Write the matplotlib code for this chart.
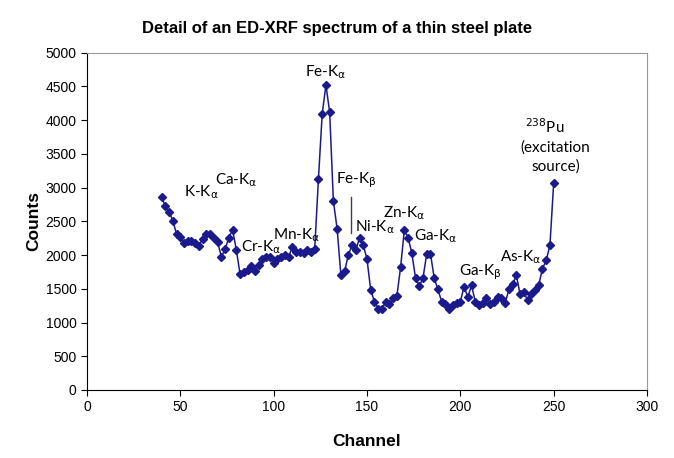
import matplotlib
matplotlib.use("Agg")
import matplotlib.pyplot as plt
import numpy as np

# channels 40..250, every 2nd channel
channels = np.arange(40, 252, 2)
counts = [2860, 2720, 2640, 2510, 2310, 2265, 2185, 2210, 2210, 2175,
          2140, 2245, 2305, 2315, 2250, 2190, 1975, 2085, 2260, 2375,
          2080, 1720, 1750, 1780, 1840, 1765, 1850, 1935, 1965, 1970,
          1880, 1940, 1965, 2000, 1975, 2115, 2050, 2040, 2025, 2075,
          2040, 2095, 3130, 4090, 4520, 4120, 2800, 2390, 1710, 1760,
          2000, 2150, 2075, 2250, 2150, 1940, 1480, 1310, 1200, 1200,
          1310, 1270, 1360, 1390, 1820, 2370, 2260, 2030, 1660, 1540,
          1660, 2020, 2020, 1660, 1490, 1310, 1270, 1200, 1260, 1290,
          1310, 1530, 1380, 1550, 1310, 1260, 1285, 1370, 1275, 1310,
          1380, 1360, 1285, 1490, 1570, 1700, 1420, 1450, 1330, 1420,
          1480, 1560, 1800, 1920, 2150, 3070]

# peak labels: text, channel, counts
a = "$_{\\mathrm{\\alpha}}$"
b = "$_{\\mathrm{\\beta}}$"
peak_labels = ["K-K" + a, "Ca-K" + a, "Cr-K" + a, "Mn-K" + a,
               "Fe-K" + a, "Fe-K" + b, "Ni-K" + a, "Zn-K" + a,
               "Ga-K" + a, "Ga-K" + b, "As-K" + a]
label_x = [61.5, 79.8, 93.5, 112.5, 128.0, 144.5, 154.2, 169.7, 186.8, 210.9, 232.3]
label_y = [2935, 3112, 2110, 2300, 4713, 3112, 2416, 2623, 2282, 1749, 1971]

navy = "#1a1a8c"
lab_font = "Lato"

fig = plt.figure(figsize=(6.74, 4.58), dpi=100)
ax = fig.add_axes([0.129, 0.1485, 0.831, 0.7365])

ax.plot(channels, counts, color=navy, lw=1.1, marker="D", ms=3.6,
        mec=navy, mfc=navy)

for t, x, y in zip(peak_labels, label_x, label_y):
    ax.text(x, y, t, ha="center", va="center", fontsize=11,
            family=lab_font, color="black")

# marker line for Fe-K beta
ax.plot([141.3, 141.3], [2860, 2330], color="#404040", lw=1)

ax.text(245.2, 3898, "$^{238}$Pu", ha="center", va="center", fontsize=11, family=lab_font)
ax.text(251, 3587, "(excitation", ha="center", va="center", fontsize=11, family=lab_font)
ax.text(251, 3305, "source)", ha="center", va="center", fontsize=11, family=lab_font)

ax.set_xlim(0, 300)
ax.set_ylim(0, 5000)
ax.set_xticks(np.arange(0, 301, 50))
ax.set_yticks(np.arange(0, 5001, 500))
ax.tick_params(direction="out", length=4, labelsize=10, colors="black")
for lab in ax.get_xticklabels() + ax.get_yticklabels():
    lab.set_family("Liberation Sans")

ax.spines["left"].set_color("black")
ax.spines["bottom"].set_color("black")
ax.spines["top"].set_color("#999999")
ax.spines["right"].set_color("#999999")

ax.set_xlabel("Channel", fontsize=12.5, fontweight="bold", family="Liberation Sans", labelpad=14)
ax.set_ylabel("Counts", fontsize=12.5, fontweight="bold", family="Liberation Sans", labelpad=3)

fig.suptitle("Detail of an ED-XRF spectrum of a thin steel plate", fontsize=12,
             fontweight="bold", family=["Liberation Sans Narrow", "Liberation Sans"],
             y=0.955)

fig.savefig("out.png", dpi=100)
